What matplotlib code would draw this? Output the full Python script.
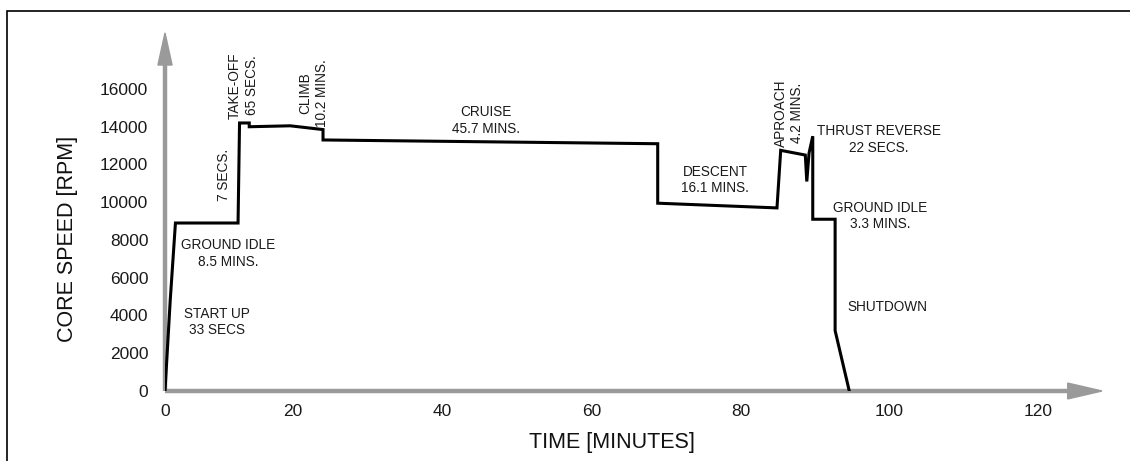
import matplotlib.pyplot as plt
from matplotlib.patches import Polygon, Rectangle

plt.rcParams['font.family'] = ['Liberation Sans', 'DejaVu Sans']

# engine core speed over one flight cycle (minutes, rpm)
time_min = [2.8, 3.5, 4.2, 12.6, 12.8, 14.1, 14.1, 19.6, 24.0, 24.0,
            68.9, 68.9, 84.9, 85.4, 88.7, 88.9, 89.2, 89.7, 89.7,
            92.7, 92.7, 94.6]
core_rpm = [0, 4800, 8900, 8900, 14200, 14200, 14000, 14050, 13850, 13300,
            13100, 9950, 9700, 12750, 12500, 11100, 12600, 13500, 9100,
            9100, 3200, 0]

x_tick_pos = [2.8, 20, 40, 60, 80, 100, 120]
x_tick_labels = ['0', '20', '40', '60', '80', '100', '120']
y_ticks = [0, 2000, 4000, 6000, 8000, 10000, 12000, 14000, 16000]

# phase labels: text, t, rpm, rotation
phase_text = ['START UP\n33 SECS', 'GROUND IDLE\n8.5 MINS.', '7 SECS.',
              'TAKE-OFF\n65 SECS.', 'CLIMB\n10.2 MINS.', 'CRUISE\n45.7 MINS.',
              'DESCENT\n16.1 MINS.', 'APROACH\n4.2 MINS.',
              'THRUST REVERSE\n22 SECS.', 'GROUND IDLE\n3.3 MINS.', 'SHUTDOWN']
phase_t = [9.8, 11.3, 10.7, 13.3, 22.8, 45.9, 76.6, 86.5, 98.6, 98.7, 99.7]
phase_rpm = [3650, 7300, 11450, 16200, 15800, 14350, 11180, 14730, 13320, 9270, 4450]
phase_rot = [0, 0, 90, 90, 90, 0, 0, 90, 0, 0, 0]

W, H = 1130, 461
fig = plt.figure(figsize=(W / 100, H / 100), dpi=100)
ax = fig.add_axes([165 / W, (H - 391) / H, (W - 165) / W, 391 / H])
ax.set_xlim(2.8, 132.26)
ax.set_ylim(0, 20715)
for s in ax.spines.values():
    s.set_visible(False)

ax.set_xticks(x_tick_pos)
ax.set_xticklabels(x_tick_labels)
ax.set_yticks(y_ticks)
ax.tick_params(length=0, labelsize=12.5, colors='#1a1a1a')
ax.tick_params(axis='x', pad=9)
ax.tick_params(axis='y', pad=12)

# grey arrow axes
grey = '#9a9a9a'
ax.plot([2.8, 124.0], [0, 0], color=grey, lw=3.2, solid_capstyle='butt', clip_on=False, zorder=1)
ax.add_patch(Polygon([[123.9, -420], [128.5, 0], [123.9, 420]], closed=True,
                     color=grey, clip_on=False, zorder=1))
ax.plot([2.8, 2.8], [0, 17300], color=grey, lw=3.2, solid_capstyle='butt', clip_on=False, zorder=1)
ax.add_patch(Polygon([[1.85, 17270], [2.8, 18970], [3.75, 17270]], closed=True,
                     color=grey, clip_on=False, zorder=1))

ax.plot(time_min, core_rpm, color='black', lw=2.2, solid_joinstyle='miter', zorder=3)

for txt, t, r, rot in zip(phase_text, phase_t, phase_rpm, phase_rot):
    ax.text(t, r, txt, rotation=rot, ha='center', va='center', multialignment='center',
            fontsize=9.8, color='#1a1a1a', linespacing=1.25)

fig.text(612 / W, 1 - 442 / H, 'TIME [MINUTES]', ha='center', va='center', fontsize=15.5, color='#111')
fig.text(68 / W, 1 - 239 / H, 'CORE SPEED [RPM]', ha='center', va='center', rotation=90,
         fontsize=15.5, color='#111')

# outer frame
fig.patches.append(Rectangle((7 / W, -0.1), 1.2, 1 - 11 / H + 0.1, transform=fig.transFigure,
                             fill=False, edgecolor='black', lw=1.2))

fig.savefig('out.png', dpi=100)
